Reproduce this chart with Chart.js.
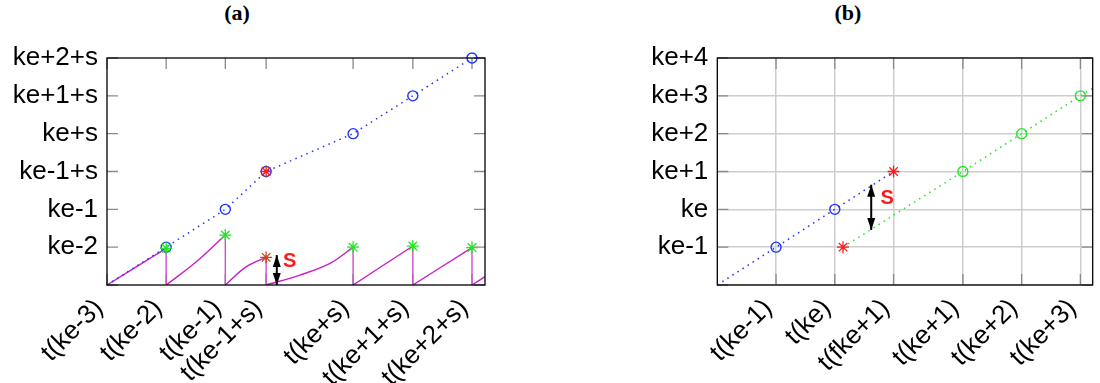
<!DOCTYPE html>
<html>
<head>
<meta charset="utf-8">
<script src="https://cdn.jsdelivr.net/npm/chart.js@4.4.1/dist/chart.umd.min.js"></script>
<style>
  body { margin: 0; background: #fff; width: 1100px; height: 383px; position: relative; overflow: hidden; }
  canvas { position: absolute; top: 0; }
  .panel-title { position: absolute; top: 0; width: 80px; margin-left: -40px; text-align: center;
    font-family: "Liberation Serif", "Times New Roman", serif; font-weight: bold; font-size: 22px;
    line-height: 26px; color: #000; }
</style>
</head>
<body>
<div class="panel-title" style="left:237px">(a)</div>
<div class="panel-title" style="left:848px">(b)</div>
<canvas id="chartA" width="500" height="383" style="left:0"></canvas>
<canvas id="chartB" width="540" height="383" style="left:560px"></canvas>
<script>
// ---- panel (a) ----
const xTicksA = [0, 1, 2, 2.69, 4.16, 5.17, 6.17];
const xLabelsA = ["t(ke-3)", "t(ke-2)", "t(ke-1)", "t(ke-1+s)", "t(ke+s)", "t(ke+1+s)", "t(ke+2+s)"];
const yLabelsA = ["", "ke-2", "ke-1", "ke-1+s", "ke+s", "ke+1+s", "ke+2+s"];
const xMaxA = 6.39;

const blueA = [[0, 0], [1, 1], [2, 2], [2.69, 3], [4.16, 4], [5.17, 5], [6.17, 6]];
const blueRadiusA = [0, 5, 5, 5, 5, 5, 5];
const greenStarsA = [[1, 0.97], [2, 1.32], [4.16, 1.0], [5.17, 1.03], [6.17, 0.99]];
const redStarsA = [[2.69, 3]];
const mixedStarsA = [[2.69, 0.73]];
// ramp pieces of the sawtooth
const rampsA = [
  [[0, 0], [1, 0.97]],
  [[1, 0], [1.5, 0.6], [2, 1.32]],
  [[2, 0], [2.35, 0.48], [2.69, 0.73]],
  [[2.69, 0], [3.26, 0.26], [3.77, 0.57], [4.16, 1.0]],
  [[4.16, 0], [5.17, 1.03]],
  [[5.17, 0], [6.17, 0.99]],
  [[6.17, 0], [6.39, 0.22]]
];
// resets back to zero
const dropsA = [
  [[1, 0.97], [1, 0]],
  [[2, 1.32], [2, 0]],
  [[2.69, 0.73], [2.69, 0]],
  [[4.16, 1.0], [4.16, 0]],
  [[5.17, 1.03], [5.17, 0]],
  [[6.17, 0.99], [6.17, 0]]
];
const arrowA = [[2.87, 0], [2.87, 0.79]];
const textA = [{ x: 3.09, y: 0.61, text: "S" }];

// ---- panel (b) ----
const xTicksB = [1, 2, 3, 4.18, 5.18, 6.18];
const xLabelsB = ["t(ke-1)", "t(ke)", "t(fke+1)", "t(ke+1)", "t(ke+2)", "t(ke+3)"];
const yLabelsB = ["", "ke-1", "ke", "ke+1", "ke+2", "ke+3", "ke+4"];
const xMaxB = 6.39;

const blueB = [[0, 0], [1, 1], [2, 2], [3, 3]];
const blueRadiusB = [0, 5, 5, 0];
const greenB = [[2.14, 1], [4.18, 3], [5.18, 4], [6.18, 5], [6.39, 5.2]];
const greenRadiusB = [0, 5, 5, 5, 0];
const redStarsB = [[3, 3], [2.14, 1]];
const arrowB = [[2.62, 1.455], [2.62, 2.65]];
const textB = [{ x: 2.89, y: 2.29, text: "S" }];

const BLUE = "#2233ff";
const GREEN = "#22e622";
const RED = "#ff1a1a";
const MAGENTA = "#c81ec8";

Chart.defaults.font.family = "'Liberation Sans', Arial, sans-serif";
Chart.defaults.color = "#000";

const pts = (arr) => arr.map(([x, y]) => ({ x, y }));
// join pieces into one series, broken by empty points
const pieces = (list) => {
  let out = [];
  list.forEach((seg, i) => {
    if (i > 0) out.push({ x: seg[0][0], y: null });
    out = out.concat(pts(seg));
  });
  return out;
};

// inward tick marks on all four sides, and the black frame
const frameTicks = {
  id: "frameTicks",
  beforeDatasetsDraw(chart) {
    const { ctx, chartArea: a, scales: { x, y } } = chart;
    const len = 11;
    ctx.save();
    ctx.strokeStyle = "#8a8a8a";
    ctx.lineWidth = 1.3;
    ctx.beginPath();
    x.ticks.forEach((t) => {
      const px = x.getPixelForValue(t.value);
      ctx.moveTo(px, a.top); ctx.lineTo(px, a.top + len);
      ctx.moveTo(px, a.bottom); ctx.lineTo(px, a.bottom - len);
    });
    y.ticks.forEach((t) => {
      const py = y.getPixelForValue(t.value);
      ctx.moveTo(a.left, py); ctx.lineTo(a.left + len, py);
      ctx.moveTo(a.right, py); ctx.lineTo(a.right - len, py);
    });
    ctx.stroke();
    ctx.restore();
  },
  afterDatasetsDraw(chart) {
    const { ctx, chartArea: a } = chart;
    ctx.save();
    ctx.strokeStyle = "#000";
    ctx.lineWidth = 1.3;
    ctx.strokeRect(a.left, a.top, a.right - a.left, a.bottom - a.top);
    ctx.restore();
  }
};

// arrow heads on both ends of datasets flagged with arrowHeads
const drawHead = (ctx, tip, from) => {
  const ang = Math.atan2(tip.y - from.y, tip.x - from.x);
  const len = 12, half = 4;
  ctx.beginPath();
  ctx.moveTo(tip.x, tip.y);
  ctx.lineTo(tip.x - len * Math.cos(ang) + half * Math.sin(ang), tip.y - len * Math.sin(ang) - half * Math.cos(ang));
  ctx.lineTo(tip.x - len * Math.cos(ang) - half * Math.sin(ang), tip.y - len * Math.sin(ang) + half * Math.cos(ang));
  ctx.closePath();
  ctx.fill();
};
const arrowHeads = {
  id: "arrowHeads",
  afterDatasetsDraw(chart) {
    const ctx = chart.ctx;
    chart.data.datasets.forEach((ds, i) => {
      if (!ds.arrowHeads) return;
      const el = chart.getDatasetMeta(i).data;
      const p0 = el[0], p1 = el[el.length - 1];
      ctx.save();
      ctx.fillStyle = ds.borderColor;
      drawHead(ctx, p1, p0);
      drawHead(ctx, p0, p1);
      ctx.restore();
    });
  }
};

// text placed at data coordinates
const textMarks = {
  id: "textMarks",
  afterDatasetsDraw(chart, args, opts) {
    const { ctx, scales: { x, y } } = chart;
    (opts.items || []).forEach((m) => {
      ctx.save();
      ctx.font = "bold 20px 'Liberation Sans', Arial, sans-serif";
      ctx.fillStyle = RED;
      ctx.textAlign = "center";
      ctx.textBaseline = "middle";
      ctx.fillText(m.text, x.getPixelForValue(m.x), y.getPixelForValue(m.y));
      ctx.restore();
    });
  }
};

const dotted = (data, color, radius) => ({
  data: pts(data),
  showLine: true,
  borderColor: color,
  borderWidth: 1.5,
  borderDash: [1.5, 4.5],
  pointStyle: "circle",
  pointRadius: radius,
  pointBorderColor: color,
  pointBackgroundColor: "rgba(0,0,0,0)",
  pointBorderWidth: 1.4,
  clip: 10
});
const stars = (data, color) => ({
  data: pts(data),
  showLine: false,
  pointStyle: "star",
  pointRadius: 6,
  pointBorderColor: color,
  pointBorderWidth: 1.3,
  clip: 10
});
const arrow = (data) => ({
  data: pts(data),
  showLine: true,
  arrowHeads: true,
  borderColor: "#000",
  borderWidth: 2,
  pointRadius: 0,
  clip: 10
});

const buildOptions = (p) => ({
  responsive: false,
  animation: false,
  events: [],
  layout: { padding: { top: 58, right: p.padRight, bottom: 0, left: 0 } },
  plugins: {
    legend: { display: false },
    tooltip: { enabled: false },
    textMarks: { items: p.text }
  },
  scales: {
    x: {
      type: "linear",
      min: 0,
      max: p.xMax,
      border: { display: false },
      grid: { display: p.grid, color: "#cdcdcd", lineWidth: 1.5, drawTicks: false },
      ticks: {
        autoSkip: false,
        maxRotation: 45,
        minRotation: 45,
        padding: 8,
        labelOffset: -8,
        font: { size: 26 },
        callback: (v, i) => p.xLabels[i]
      },
      afterBuildTicks: (s) => { s.ticks = p.xTicks.map((v) => ({ value: v })); },
      afterFit: (s) => { s.height = 98; s.paddingLeft = 0; s.paddingRight = 0; }
    },
    y: {
      type: "linear",
      min: 0,
      max: 6,
      border: { display: false },
      grid: { display: p.grid, color: "#cdcdcd", lineWidth: 1.5, drawTicks: false },
      ticks: {
        stepSize: 1,
        padding: 9,
        font: { size: 26 },
        callback: (v) => p.yLabels[v]
      },
      afterFit: (s) => { s.width = p.yWidth; s.paddingTop = 0; s.paddingBottom = 0; }
    }
  }
});

new Chart(document.getElementById("chartA"), {
  type: "scatter",
  data: {
    datasets: [
      stars(redStarsA, RED),
      stars(mixedStarsA, "#d2400f"),
      stars(greenStarsA, GREEN),
      dotted(blueA, BLUE, blueRadiusA),
      arrow(arrowA),
      {
        data: pieces(rampsA),
        showLine: true,
        spanGaps: false,
        borderColor: MAGENTA,
        borderWidth: 1.4,
        tension: 0.35,
        pointRadius: 0
      },
      {
        data: pieces(dropsA),
        showLine: true,
        spanGaps: false,
        borderColor: "#cf4fcf",
        borderWidth: 1.4,
        pointRadius: 0
      }
    ]
  },
  options: buildOptions({
    xTicks: xTicksA, xLabels: xLabelsA, yLabels: yLabelsA, xMax: xMaxA,
    yWidth: 107, padRight: 15, grid: false, text: textA
  }),
  plugins: [frameTicks, arrowHeads, textMarks]
});

new Chart(document.getElementById("chartB"), {
  type: "scatter",
  data: {
    datasets: [
      stars(redStarsB, RED),
      dotted(blueB, BLUE, blueRadiusB),
      dotted(greenB, GREEN, greenRadiusB),
      arrow(arrowB)
    ]
  },
  options: buildOptions({
    xTicks: xTicksB, xLabels: xLabelsB, yLabels: yLabelsB, xMax: xMaxB,
    yWidth: 157.3, padRight: 4.3, grid: true, text: textB
  }),
  plugins: [frameTicks, arrowHeads, textMarks]
});
</script>
</body>
</html>
